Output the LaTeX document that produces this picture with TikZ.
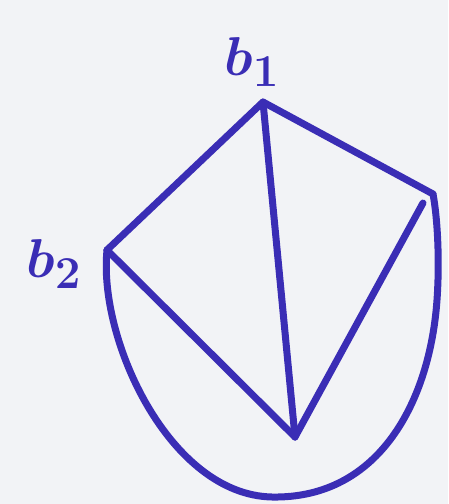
\documentclass[tikz,border=0pt]{standalone}
\usepackage{amsmath}
\usepackage{bm}
\usetikzlibrary{calc}
\definecolor{ink}{HTML}{3A2DB5}
\definecolor{paper}{HTML}{F2F3F6}
\begin{document}
\begin{tikzpicture}[x=1pt,y=-1pt,
  stroke/.style={draw=ink,line width=7pt,line cap=round,line join=round},
  lbl/.style={text=ink,font=\Huge,scale=2.2,inner sep=0pt}]
\fill[paper] (0,0) rectangle (448,504);
\useasboundingbox (0,0) rectangle (448,504);
\coordinate (b1) at (263,102);
\coordinate (b2) at (107,250);
\coordinate (r) at (433,194);
\coordinate (ri) at (423,203);
\coordinate (v) at (295,437);
\node[lbl] (l1) at (252,62) {$\bm{b_1}$};
\node[lbl] (l2) at (54,264) {$\bm{b_2}$};
\draw[stroke] (b2) -- (b1) -- (r);
\draw[stroke] (b1) -- (v);
\draw[stroke] (b2) -- (v);
\draw[stroke] (ri) -- (v);
\draw[stroke] (b2) .. controls (98,340) and (170,495) .. (272,497)
  .. controls (380,499) and (430,400) .. (437,300)
  .. controls (440,257) and (437,215) .. (r);
\end{tikzpicture}
\end{document}
